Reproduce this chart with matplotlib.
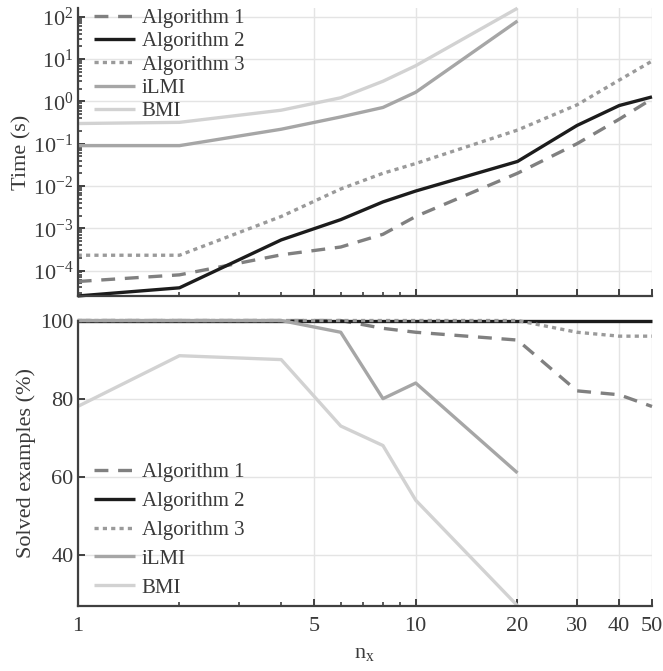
import matplotlib

matplotlib.use("Agg")
import matplotlib.pyplot as plt
from matplotlib.ticker import FixedLocator, FixedFormatter, LogLocator, NullFormatter

# number of states
NX = [1, 2, 4, 6, 8, 10, 20, 30, 40, 50]
NX_LMI = [1, 2, 4, 6, 8, 10, 20]

# computation time (s)
TIME_ALG1 = [5.5e-5, 7.9e-5, 2.35e-4, 3.6e-4, 7.2e-4, 1.9e-3, 0.020, 0.10, 0.38, 1.15]
TIME_ALG2 = [2.5e-5, 3.9e-5, 5.3e-4, 1.6e-3, 4.2e-3, 7.6e-3, 0.038, 0.27, 0.80, 1.28]
TIME_ALG3 = [2.3e-4, 2.3e-4, 1.9e-3, 8.5e-3, 0.020, 0.034, 0.21, 0.83, 3.2, 9.0]
TIME_ILMI = [0.09, 0.09, 0.22, 0.43, 0.72, 1.65, 80.0]
TIME_BMI = [0.30, 0.32, 0.62, 1.22, 3.0, 7.0, 160.0]

# solved examples (%)
SOLVED_ALG1 = [100, 100, 100, 100, 98, 97, 95, 82, 81, 78]
SOLVED_ALG2 = [100, 100, 100, 100, 100, 100, 100, 100, 100, 100]
SOLVED_ALG3 = [100, 100, 100, 100, 100, 100, 100, 97, 96, 96]
SOLVED_ILMI = [100, 100, 100, 97, 80, 84, 61]
SOLVED_BMI = [78, 91, 90, 73, 68, 54, 27]

LABELS = ["Algorithm 1", "Algorithm 2", "Algorithm 3", "iLMI", "BMI"]
XTICKS = [1, 5, 10, 20, 30, 40, 50]

plt.rcParams["font.family"] = ["Liberation Serif", "DejaVu Serif"]
plt.rcParams["mathtext.fontset"] = "custom"
plt.rcParams["mathtext.rm"] = "Liberation Serif"
plt.rcParams["mathtext.it"] = "Liberation Serif:italic"
plt.rcParams["lines.scale_dashes"] = False

TEXT = "#3a3a3a"
AXIS = "#404040"
styles = [
    dict(color="#808080", linestyle=(0, (10, 7))),
    dict(color="#1c1c1c", linestyle="-"),
    dict(color="#9a9a9a", linestyle=(0, (3, 3))),
    dict(color="#a6a6a6", linestyle="-"),
    dict(color="#d2d2d2", linestyle="-"),
]
LW = 2.4
FS = 16
FS_LEG = 15

fig = plt.figure(figsize=(6.63, 6.71), dpi=100)
ax_top = fig.add_axes([0.1172, 0.5589, 0.8662, 0.4288])
ax_bot = fig.add_axes([0.1172, 0.0973, 0.8662, 0.4250])

top_series = [(NX, TIME_ALG1), (NX, TIME_ALG2), (NX, TIME_ALG3), (NX_LMI, TIME_ILMI), (NX_LMI, TIME_BMI)]
bot_series = [(NX, SOLVED_ALG1), (NX, SOLVED_ALG2), (NX, SOLVED_ALG3), (NX_LMI, SOLVED_ILMI), (NX_LMI, SOLVED_BMI)]

for (xs, ys), label, st in zip(top_series, LABELS, styles):
    ax_top.plot(xs, ys, label=label, lw=LW, clip_on=False, solid_capstyle="butt", dash_capstyle="butt", **st)
for (xs, ys), label, st in zip(bot_series, LABELS, styles):
    ax_bot.plot(xs, ys, label=label, lw=LW, clip_on=False, solid_capstyle="butt", dash_capstyle="butt", **st)

all_times = TIME_ALG1 + TIME_ALG2 + TIME_ALG3 + TIME_ILMI + TIME_BMI
all_solved = SOLVED_ALG1 + SOLVED_ALG2 + SOLVED_ALG3 + SOLVED_ILMI + SOLVED_BMI

ax_top.set_yscale("log")
ax_top.set_ylim(min(all_times), max(all_times))
ax_top.yaxis.set_major_locator(LogLocator(base=10, numticks=20))
ax_top.yaxis.set_minor_locator(LogLocator(base=10, subs=range(2, 10), numticks=20))
ax_top.yaxis.set_minor_formatter(NullFormatter())
ax_top.set_ylabel("Time (s)", fontsize=FS, color=TEXT, labelpad=1)

ax_bot.set_ylim(min(all_solved), 100)
ax_bot.set_yticks([40, 60, 80, 100])
ax_bot.set_ylabel("Solved examples (%)", fontsize=FS, color=TEXT, labelpad=3)
ax_bot.set_xlabel(r"$\mathrm{n_x}$", fontsize=FS, color=TEXT, labelpad=6)

for ax in (ax_top, ax_bot):
    ax.set_xscale("log")
    ax.set_xlim(1, 50)
    ax.xaxis.set_major_locator(FixedLocator(XTICKS))
    ax.xaxis.set_minor_locator(FixedLocator([2, 3, 4, 6, 7, 8, 9]))
    ax.xaxis.set_minor_formatter(NullFormatter())
    ax.grid(True, which="major", color="#e4e4e4", lw=1.0)
    ax.set_axisbelow(True)
    for side in ("top", "right"):
        ax.spines[side].set_visible(False)
    for side in ("left", "bottom"):
        ax.spines[side].set_color(AXIS)
        ax.spines[side].set_linewidth(1.6)
    ax.tick_params(which="major", direction="in", length=5, width=1.4, color=AXIS,
                   labelsize=FS, labelcolor=TEXT)
    ax.tick_params(which="minor", direction="in", length=3, width=1.2, color=AXIS)
    ax.tick_params(axis="x", which="major", pad=8)
    ax.tick_params(axis="y", which="major", pad=3)

ax_bot.xaxis.set_major_formatter(FixedFormatter([str(t) for t in XTICKS]))
ax_top.xaxis.set_major_formatter(NullFormatter())

leg_kw = dict(frameon=False, fontsize=FS_LEG, handlelength=2.0, handletextpad=0.3,
              borderaxespad=0.0, borderpad=0.0, labelcolor=TEXT)
ax_top.legend(loc="upper left", bbox_to_anchor=(0.028, 1.0), labelspacing=0.18, **leg_kw)
ax_bot.legend(loc="lower left", bbox_to_anchor=(0.028, 0.028), labelspacing=0.45, **leg_kw)

fig.savefig("out.png", dpi=100)
